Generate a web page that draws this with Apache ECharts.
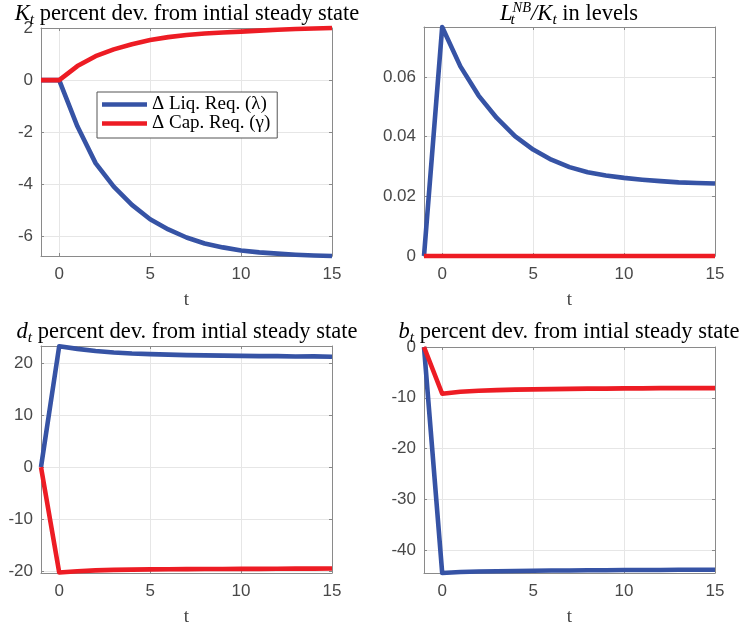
<!DOCTYPE html>
<html><head><meta charset="utf-8">
<script src="https://cdn.jsdelivr.net/npm/echarts@6/dist/echarts.min.js"></script>
<style>html,body{margin:0;padding:0;background:#fff}#c{width:741px;height:628px}</style>
</head><body><div id="c"></div>
<script>
// ---- data ----
const t = [-1,0,1,2,3,4,5,6,7,8,9,10,11,12,13,14,15];
const seriesNames = ['Δ Liq. Req. (λ)', 'Δ Cap. Req. (γ)'];
const K_liq = [0,0,-1.77,-3.18,-4.08,-4.78,-5.33,-5.72,-6.03,-6.26,-6.41,-6.53,-6.6,-6.65,-6.69,-6.72,-6.74];
const K_cap = [0,0,0.54,0.92,1.18,1.38,1.54,1.65,1.73,1.79,1.83,1.86,1.9,1.93,1.96,1.98,2.0];
const L_liq = [0,0.0768,0.0636,0.0538,0.0463,0.0402,0.0357,0.0323,0.0298,0.0281,0.027,0.0262,0.0256,0.0251,0.0247,0.0245,0.0243];
const L_cap = [0,0,0,0,0,0,0,0,0,0,0,0,0,0,0,0,0];
const d_liq = [0,23.2,22.7,22.3,22.0,21.8,21.7,21.6,21.5,21.45,21.4,21.35,21.3,21.3,21.25,21.25,21.2];
const d_cap = [0,-20.2,-19.95,-19.8,-19.7,-19.65,-19.6,-19.58,-19.56,-19.54,-19.52,-19.5,-19.5,-19.48,-19.47,-19.46,-19.45];
const b_liq = [0,-44.5,-44.3,-44.2,-44.15,-44.1,-44.05,-44.0,-44.0,-43.95,-43.95,-43.9,-43.9,-43.9,-43.85,-43.85,-43.85];
const b_cap = [0,-9.2,-8.8,-8.6,-8.5,-8.4,-8.35,-8.3,-8.25,-8.2,-8.2,-8.15,-8.15,-8.1,-8.1,-8.1,-8.1];
const xTicks = [0,5,10,15];
const yTicks = [[-6,-4,-2,0,2],[0,0.02,0.04,0.06],[-20,-10,0,10,20],[-40,-30,-20,-10,0]];
const yRange = [[-6.74,2.0],[0,0.0768],[-20.3,23.25],[-44.5,0]];
const panelData = [[K_liq,K_cap],[L_liq,L_cap],[d_liq,d_cap],[b_liq,b_cap]];
const xName = 't';
const titleTexts = [
  '{it|K}{sub|t}{r| percent dev. from intial steady state}',
  '{it|L}{subz|t}{sup|NB}{it|/K}{sub|t}{r| in levels}',
  '{it|d}{sub|t}{r| percent dev. from intial steady state}',
  '{it|b}{sub|t}{r| percent dev. from intial steady state}'
];

// ---- layout / style ----
const grids = [
  {left:41, top:28, width:291, height:228},
  {left:424, top:27, width:291, height:229},
  {left:41, top:346, width:291, height:228},
  {left:424, top:347, width:291, height:227}
];
const titlePos = [[187,1],[569,1],[187,319],[569,319]];
const colors = ['#3653a5','#ed1c24'];
const frame = '#8a8a8a';
const labelFont = {fontFamily:'Liberation Sans', fontSize:17, color:'#484848'};
const serif = 'Liberation Serif';
const TF = 22.5;

const xAxes = [], yAxes = [], series = [];
grids.forEach((g,i)=>{
  xAxes.push({
    gridIndex:i, type:'value', position:'bottom', min:-1, max:15,
    axisLine:{onZero:false, lineStyle:{color:frame, width:1}},
    axisTick:{inside:true, length:3, customValues:xTicks, lineStyle:{color:frame}},
    axisLabel:Object.assign({customValues:xTicks, margin:10}, labelFont),
    splitLine:{show:true, lineStyle:{color:'#e6e6e6', width:1}},
    name:xName, nameLocation:'middle', nameGap:35,
    nameTextStyle:{fontFamily:serif, fontSize:19, color:'#444'}
  });
  xAxes.push({
    gridIndex:i, type:'value', position:'top', min:-1, max:15,
    axisLine:{onZero:false, lineStyle:{color:frame, width:1}},
    axisTick:{inside:true, length:3, customValues:xTicks, lineStyle:{color:frame}},
    axisLabel:{show:false}, splitLine:{show:false}
  });
  yAxes.push({
    gridIndex:i, type:'value', position:'left', min:yRange[i][0], max:yRange[i][1],
    axisLine:{show:true, onZero:false, lineStyle:{color:frame, width:1}},
    axisTick:{show:true, inside:true, length:3, customValues:yTicks[i], lineStyle:{color:frame}},
    axisLabel:Object.assign({customValues:yTicks[i], margin:8}, labelFont),
    splitLine:{show:true, lineStyle:{color:'#e6e6e6', width:1}}
  });
  yAxes.push({
    gridIndex:i, type:'value', position:'right', min:yRange[i][0], max:yRange[i][1],
    axisLine:{show:true, onZero:false, lineStyle:{color:frame, width:1}},
    axisTick:{show:true, inside:true, length:3, customValues:yTicks[i], lineStyle:{color:frame}},
    axisLabel:{show:false}, splitLine:{show:false}
  });
  panelData[i].forEach((vals,k)=>{
    series.push({
      name:seriesNames[k], type:'line', xAxisIndex:2*i, yAxisIndex:2*i,
      data:t.map((x,j)=>[x, vals[j]]),
      showSymbol:false, symbol:'none', clip:false, animation:false,
      lineStyle:{color:colors[k], width:4.6, join:'round'}, itemStyle:{color:colors[k]},
      z: 3+k
    });
  });
});

const baseRich = {
  it:{fontFamily:serif, fontStyle:'italic', fontWeight:'normal', fontSize:TF, lineHeight:27, color:'#000'},
  sub:{fontFamily:serif, fontStyle:'italic', fontWeight:'normal', fontSize:15.5, lineHeight:14, verticalAlign:'bottom', color:'#000'},
  subz:{fontFamily:serif, fontStyle:'italic', fontWeight:'normal', fontSize:15.5, lineHeight:14, verticalAlign:'bottom', width:0, color:'#000'},
  sup:{fontFamily:serif, fontStyle:'italic', fontWeight:'normal', fontSize:14.5, lineHeight:13, verticalAlign:'top', color:'#000'},
  r:{fontFamily:serif, fontWeight:'normal', fontSize:TF, lineHeight:27, color:'#000'}
};
const titles = titleTexts.map((tx,i)=>({
  text:tx, left:titlePos[i][0], top:titlePos[i][1], textAlign:'center', padding:0,
  textStyle:{rich:baseRich, fontFamily:serif, fontWeight:'normal', fontSize:TF, color:'#000'}
}));

const option = {
  backgroundColor:'#fff',
  animation:false,
  title:titles,
  grid:grids,
  xAxis:xAxes,
  yAxis:yAxes,
  legend:{
    data:seriesNames, left:97, top:92, orient:'vertical',
    icon:'rect', itemWidth:45, itemHeight:4.5, itemGap:0,
    padding:[3,7,5,5], backgroundColor:'#fff', borderColor:'#555', borderWidth:1, borderRadius:0,
    textStyle:{fontFamily:serif, fontSize:19, lineHeight:19, color:'#000'},
    selectedMode:false
  },
  series:series
};
const chart = echarts.init(document.getElementById('c'));
chart.setOption(option);
</script>
</body></html>
